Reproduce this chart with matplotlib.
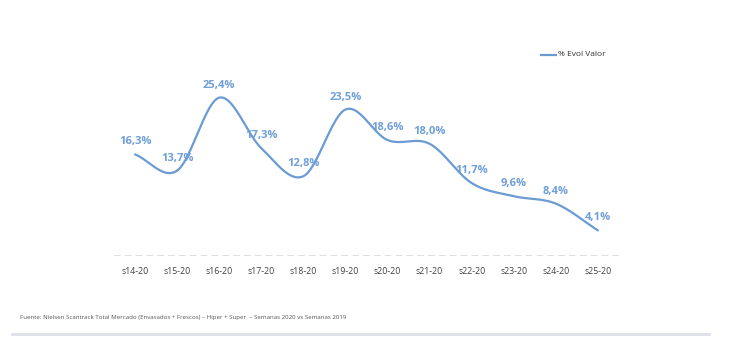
import numpy as np
import matplotlib.pyplot as plt

weeks = ["s14-20", "s15-20", "s16-20", "s17-20", "s18-20", "s19-20",
         "s20-20", "s21-20", "s22-20", "s23-20", "s24-20", "s25-20"]
evol_valor = [16.3, 13.7, 25.4, 17.3, 12.8, 23.5, 18.6, 18.0, 11.7, 9.6, 8.4, 4.1]
series_name = "% Evol Valor"
source = ("Fuente: Nielsen Scantrack Total Mercado (Envasados + Frescos) \u2013 Hiper + Super  "
          "\u2013 Semanas 2020 vs Semanas 2019")

line_col = "#6b9bd3"


def smooth(x, y, n=30):
    """Catmull-Rom curve through the points, like Excel's smoothed line."""
    x = np.asarray(x, float); y = np.asarray(y, float)
    px = np.concatenate([[2*x[0]-x[1]], x, [2*x[-1]-x[-2]]])
    py = np.concatenate([[2*y[0]-y[1]], y, [2*y[-1]-y[-2]]])
    xs, ys = [], []
    t = np.linspace(0, 1, n)
    for i in range(1, len(px)-2):
        for p, out in ((px, xs), (py, ys)):
            p0, p1, p2, p3 = p[i-1], p[i], p[i+1], p[i+2]
            out.extend(0.5*((2*p1) + (-p0+p2)*t + (2*p0-5*p1+4*p2-p3)*t**2
                            + (-p0+3*p1-3*p2+p3)*t**3))
    return np.array(xs), np.array(ys)


fig = plt.figure(figsize=(7.4, 3.55), dpi=100)
ax = fig.add_axes([114/740, 1-256/355, (619-114)/740, (256-69)/355])

x = np.arange(len(weeks))
sx, sy = smooth(x, evol_valor)
ax.plot(sx, sy, color=line_col, lw=1.6, solid_capstyle="round")

for xi, v in zip(x, evol_valor):
    ax.annotate(f"{v:.1f}%".replace(".", ","), (xi, v), xytext=(0, 5),
                textcoords="offset points", ha="center", va="bottom",
                fontsize=8, fontweight="bold", color="#6f9fd8",
                family="Open Sans")

ax.axhline(0, color="#d9d9d9", lw=1.2, ls=(0, (4, 2.5)))
ax.set_xlim(-0.5, len(weeks)-0.5)
ax.set_ylim(0, 30)
ax.set_xticks(x)
ax.set_xticklabels(weeks, fontsize=6.3, color="#404040", family="Open Sans")
ax.tick_params(length=0, pad=8)
ax.set_yticks([])
for s in ax.spines.values():
    s.set_visible(False)

# legend
fig.add_artist(plt.Line2D([541/740, 556/740], [1-55/355, 1-55/355],
                          color=line_col, lw=1.6))
fig.text(558/740, 1-55/355, series_name, fontsize=6, color="#333333",
         va="center", family="Open Sans")

fig.text(20/740, 1-318/355, source, fontsize=4.4, color="#555555", va="center",
         family="Open Sans")
fig.add_artist(plt.Line2D([12/740, 709/740], [1-334/355, 1-334/355],
                          color="#dde1e7", lw=2))

fig.savefig("out.png", dpi=100)
